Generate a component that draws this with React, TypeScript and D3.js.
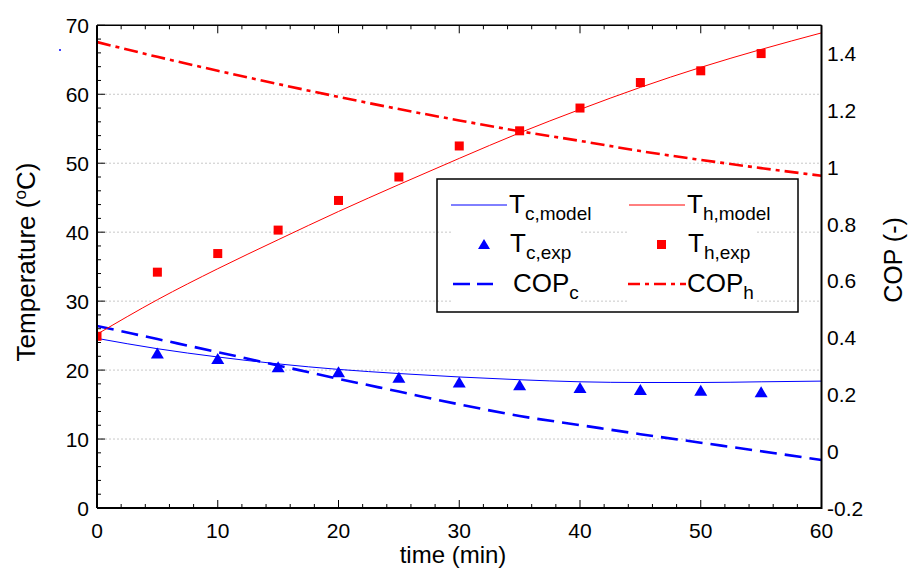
import React from "react";
import * as d3 from "d3";

// time axis (min)
const tModel = [0, 5, 10, 15, 20, 25, 30, 35, 40, 45, 50, 55, 60];
const thModel = [25.2, 30.2, 34.7, 38.9, 43.0, 46.9, 50.7, 54.4, 57.8, 61.0, 63.9, 66.5, 68.9];
const tcModel = [24.6, 23.1, 21.9, 20.9, 20.1, 19.5, 19.0, 18.6, 18.3, 18.2, 18.2, 18.3, 18.4];
const copC = [0.441, 0.395, 0.349, 0.302, 0.255, 0.21, 0.165, 0.124, 0.092, 0.06, 0.03, 0.0, -0.031];
const copH = [1.441, 1.389, 1.34, 1.293, 1.248, 1.205, 1.165, 1.127, 1.093, 1.057, 1.026, 0.997, 0.97];

const tExp = [0, 5, 10, 15, 20, 25, 30, 35, 40, 45, 50, 55];
const thExp = [24.9, 34.2, 36.9, 40.3, 44.6, 48.0, 52.5, 54.7, 58.0, 61.7, 63.4, 65.9];
const tcExpT = [5, 10, 15, 20, 25, 30, 35, 40, 45, 50, 55];
const tcExp = [22.4, 21.6, 20.4, 19.7, 18.9, 18.2, 17.8, 17.4, 17.1, 17.0, 16.8];

const xTicks = [0, 10, 20, 30, 40, 50, 60];
const yTicks = [0, 10, 20, 30, 40, 50, 60, 70];
const rTicks = [-0.2, 0, 0.2, 0.4, 0.6, 0.8, 1, 1.2, 1.4];

const W = 908;
const H = 571;
const L = 97, R = 821.5, T = 25.3, B = 508;
const font = "Liberation Sans, Arial, sans-serif";

export default function App() {
  const x = d3.scaleLinear().domain([0, 60]).range([L, R]);
  const y = d3.scaleLinear().domain([0, 70]).range([B, T]);
  const y2 = d3.scaleLinear().domain([-0.2, 1.5]).range([B, T]);

  const line = (ts: number[], vs: number[], sc: d3.ScaleLinear<number, number>) =>
    d3
      .line<number>()
      .x((_, i) => x(ts[i]))
      .y((v) => sc(v))
      .curve(d3.curveMonotoneX)(vs) || "";

  const minorX = d3.range(0, 61, 2);
  const minorY = d3.range(0, 71, 2);

  return (
    <svg width={W} height={H} style={{ position: "absolute", left: 0, top: 0 }} fontFamily={font}>
      <defs>
        <clipPath id="plot">
          <rect x={L} y={T} width={R - L} height={B - T} />
        </clipPath>
      </defs>
      <rect width={W} height={H} fill="white" />

      {/* gridlines */}
      {yTicks.slice(1, -1).map((v) => (
        <line key={v} x1={L} x2={R} y1={y(v)} y2={y(v)} stroke="#c8c8c8" strokeWidth={1} strokeDasharray="2,2" />
      ))}

      {/* legend box, gridlines hidden behind entries */}
      <rect x={437} y={179} width={361} height={133} fill="none" stroke="black" strokeWidth={1.5} />
      <rect x={452} y={181} width={129} height={129} fill="white" />
      <rect x={628} y={181} width={129} height={129} fill="white" />

      <g clipPath="url(#plot)">
        <path d={line(tModel, copC, y2)} fill="none" stroke="#0000ff" strokeWidth={2.6} strokeDasharray="17,8" />
        <path d={line(tModel, copH, y2)} fill="none" stroke="#ff0000" strokeWidth={2.6} strokeDasharray="14,5,4,5" />
        <path d={line(tModel, tcModel, y)} fill="none" stroke="#0000ff" strokeWidth={1} />
        <path d={line(tModel, thModel, y)} fill="none" stroke="#ff0000" strokeWidth={1} />
        {tExp.map((t, i) => (
          <rect key={t} x={x(t) - 4.5} y={y(thExp[i]) - 4.5} width={9} height={9} fill="#ff0000" />
        ))}
        {tcExpT.map((t, i) => {
          const cx = x(t), cy = y(tcExp[i]);
          return <path key={t} d={`M${cx},${cy - 6} L${cx + 6.5},${cy + 5} L${cx - 6.5},${cy + 5} Z`} fill="#0000ff" />;
        })}
      </g>

      {/* frame */}
      <line x1={L} x2={R} y1={T} y2={T} stroke="black" strokeWidth={1.5} />
      <line x1={L} x2={R} y1={B} y2={B} stroke="black" strokeWidth={2} />
      <line x1={L} x2={L} y1={T} y2={B} stroke="black" strokeWidth={2} />
      <line x1={R} x2={R} y1={T} y2={B + 1} stroke="black" strokeWidth={2} />

      {/* ticks */}
      {minorX.map((v) => {
        const len = v % 10 === 0 ? 8 : 4;
        return (
          <g key={v}>
            <line x1={x(v)} x2={x(v)} y1={B} y2={B - len} stroke="black" strokeWidth={1} />
            <line x1={x(v)} x2={x(v)} y1={T} y2={T + len} stroke="black" strokeWidth={1} />
          </g>
        );
      })}
      {minorY.map((v) => {
        const len = v % 10 === 0 ? 8 : 4;
        return <line key={v} x1={L} x2={L + len} y1={y(v)} y2={y(v)} stroke="black" strokeWidth={1} />;
      })}

      {xTicks.map((v) => (
        <text key={v} x={x(v)} y={538} fontSize={21} textAnchor="middle">
          {v}
        </text>
      ))}
      {yTicks.map((v) => (
        <text key={v} x={89} y={y(v) + 7.5} fontSize={21} textAnchor="end">
          {v}
        </text>
      ))}
      {rTicks.map((v) => (
        <text key={v} x={827} y={y2(v) + 7.5} fontSize={21} textAnchor="start">
          {v}
        </text>
      ))}

      <text x={453} y={563} fontSize={24} textAnchor="middle">time (min)</text>
      <text transform="translate(35,262) rotate(-90)" fontSize={26} textAnchor="middle">
        Temperature (<tspan fontSize={17} dy={-9}>o</tspan>
        <tspan dy={9}>C)</tspan>
      </text>
      <text transform="translate(902,260) rotate(-90)" fontSize={25} textAnchor="middle">COP (-)</text>

      {/* legend entries */}
      <line x1={451} x2={507} y1={205} y2={205} stroke="#0000ff" strokeWidth={1} />
      <text x={509} y={213} fontSize={26}>
        T<tspan fontSize={19} dy={7}>c,model</tspan>
      </text>
      <line x1={629} x2={685} y1={205} y2={205} stroke="#ff0000" strokeWidth={1} />
      <text x={687} y={213} fontSize={26}>
        T<tspan fontSize={19} dy={7}>h,model</tspan>
      </text>
      <path d="M484,239 L490,249 L478,249 Z" fill="#0000ff" />
      <text x={510} y={252} fontSize={26}>
        T<tspan fontSize={19} dy={7}>c,exp</tspan>
      </text>
      <rect x={657} y={240} width={9} height={9} fill="#ff0000" />
      <text x={688} y={252} fontSize={26}>
        T<tspan fontSize={19} dy={7}>h,exp</tspan>
      </text>
      <line x1={453} x2={493} y1={284} y2={284} stroke="#0000ff" strokeWidth={2.6} strokeDasharray="17,7" />
      <text x={513} y={292} fontSize={26}>
        COP<tspan fontSize={19} dy={7}>c</tspan>
      </text>
      <line x1={628} x2={686} y1={284} y2={284} stroke="#ff0000" strokeWidth={2.6} strokeDasharray="12,5,4,5" />
      <text x={687} y={292} fontSize={26}>
        COP<tspan fontSize={19} dy={7}>h</tspan>
      </text>

      {/* stray mark */}
      <rect x={59} y={49} width={2} height={2} fill="#4040ff" />
    </svg>
  );
}
